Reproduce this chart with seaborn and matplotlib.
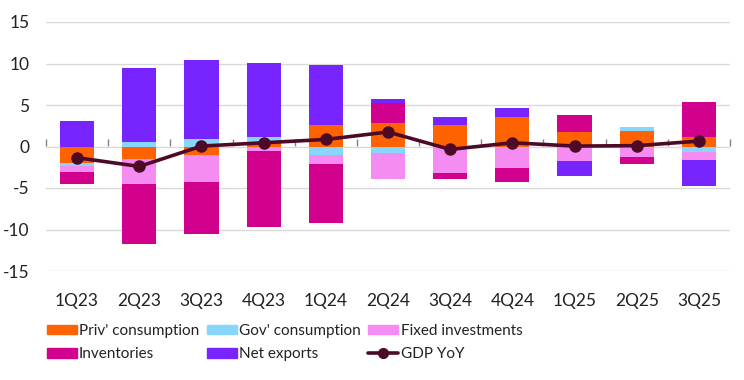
import numpy as np
import pandas as pd
import matplotlib
matplotlib.use("Agg")
import matplotlib.pyplot as plt
import seaborn as sns
from matplotlib.patches import Patch
from matplotlib.lines import Line2D

quarters = ["1Q23", "2Q23", "3Q23", "4Q23", "1Q24", "2Q24", "3Q24", "4Q24", "1Q25", "2Q25", "3Q25"]
priv_cons = [-2.0, -1.55, -1.05, 0.6, 2.55, 2.8, 2.55, 3.5, 1.7, 1.9, 1.1]
gov_cons = [-0.3, 0.6, 0.95, 0.6, -1.0, -0.8, 0.0, -0.2, 0.0, 0.5, -0.7]
fixed_inv = [-0.8, -3.0, -3.2, -0.55, -1.15, -3.1, -3.2, -2.45, -1.8, -1.3, -0.9]
inventories = [-1.45, -7.2, -6.35, -9.2, -7.1, 2.45, -0.7, -1.65, 2.05, -0.8, 4.3]
net_exports = [3.1, 8.8, 9.5, 8.9, 7.3, 0.45, 1.05, 1.1, -1.75, 0.0, -3.2]
gdp_yoy = [-1.35, -2.4, 0.05, 0.45, 0.85, 1.75, -0.35, 0.45, 0.05, 0.1, 0.65]

series_names = ["Priv' consumption", "Gov' consumption", "Fixed investments", "Inventories", "Net exports"]
series_vals = [priv_cons, gov_cons, fixed_inv, inventories, net_exports]
series_colors = ["#FF6200", "#89D6FD", "#F48CF2", "#D1008D", "#7724FF"]
line_color = "#4D0A26"

sns.set_theme(style="white")
plt.rcParams["font.family"] = ["Lato", "DejaVu Sans"]

fig = plt.figure(figsize=(7.44, 3.80), dpi=100)
ax = fig.add_axes([46 / 744, 1 - 271 / 380, (730 - 46) / 744, (271 - 22) / 380])

n = len(quarters)
pos_cum = np.zeros(n)
neg_cum = np.zeros(n)
for name, vals, col in zip(series_names, series_vals, series_colors):
    v = np.array(vals, dtype=float)
    bottoms = np.where(v >= 0, pos_cum, neg_cum)
    df = pd.DataFrame({"q": quarters, "v": v})
    sns.barplot(data=df, x="q", y="v", order=quarters, color=col, width=0.55,
                bottom=bottoms, errorbar=None, saturation=1, ax=ax, linewidth=0,
                zorder=2)
    pos_cum = pos_cum + np.where(v >= 0, v, 0)
    neg_cum = neg_cum + np.where(v < 0, v, 0)

gdf = pd.DataFrame({"x": np.arange(n), "g": gdp_yoy})
sns.lineplot(data=gdf, x="x", y="g", color=line_color, linewidth=2.6, marker="o",
             markersize=9, markeredgewidth=0, ax=ax, zorder=4)

ax.set_xlim(-0.5, n - 0.5)
ax.set_ylim(-15, 15)
ax.set_yticks([-15, -10, -5, 0, 5, 10, 15])
ax.set_yticklabels(["-15", "-10", "-5", "0", "5", "10", "15"])
ax.set_xticks(np.arange(n))
ax.set_xticklabels(quarters)
ax.set_xlabel("")
ax.set_ylabel("")
ax.yaxis.grid(True, color="#D9D9D9", linewidth=1)
ax.set_axisbelow(True)
for s in ax.spines.values():
    s.set_visible(False)
ax.tick_params(axis="x", length=0, pad=16, labelsize=12.5, colors="#222222")
ax.tick_params(axis="y", length=0, pad=12, labelsize=12.5, colors="#222222")

sec = ax.secondary_xaxis(0.5)
sec.set_xticks(np.arange(-0.5, n, 1.0))
sec.set_xticklabels([])
sec.tick_params(axis="x", length=5, width=1, color="#808080", direction="out")
sec.spines["bottom"].set_color("#808080")
sec.spines["bottom"].set_linewidth(1)
for k in ["top", "left", "right"]:
    sec.spines[k].set_visible(False)

handles = [Patch(color=c) for c in series_colors]
gdp_handle = Line2D([], [], color=line_color, linewidth=2.6, marker="o", markersize=7)
labels_all = series_names + ["GDP YoY"]
h_all = handles + [gdp_handle]
order = [0, 3, 1, 4, 2, 5]
leg = fig.legend([h_all[i] for i in order], [labels_all[i] for i in order],
                 loc="upper left", bbox_to_anchor=(47 / 744, 1 - 324 / 380), ncol=3,
                 frameon=False, fontsize=11, handlelength=1.95, handleheight=0.6,
                 handletextpad=0.15, columnspacing=0.5, labelspacing=0.62,
                 borderaxespad=0, borderpad=0)
for t in leg.get_texts():
    t.set_color("#222222")

fig.savefig("out.png", dpi=100)
